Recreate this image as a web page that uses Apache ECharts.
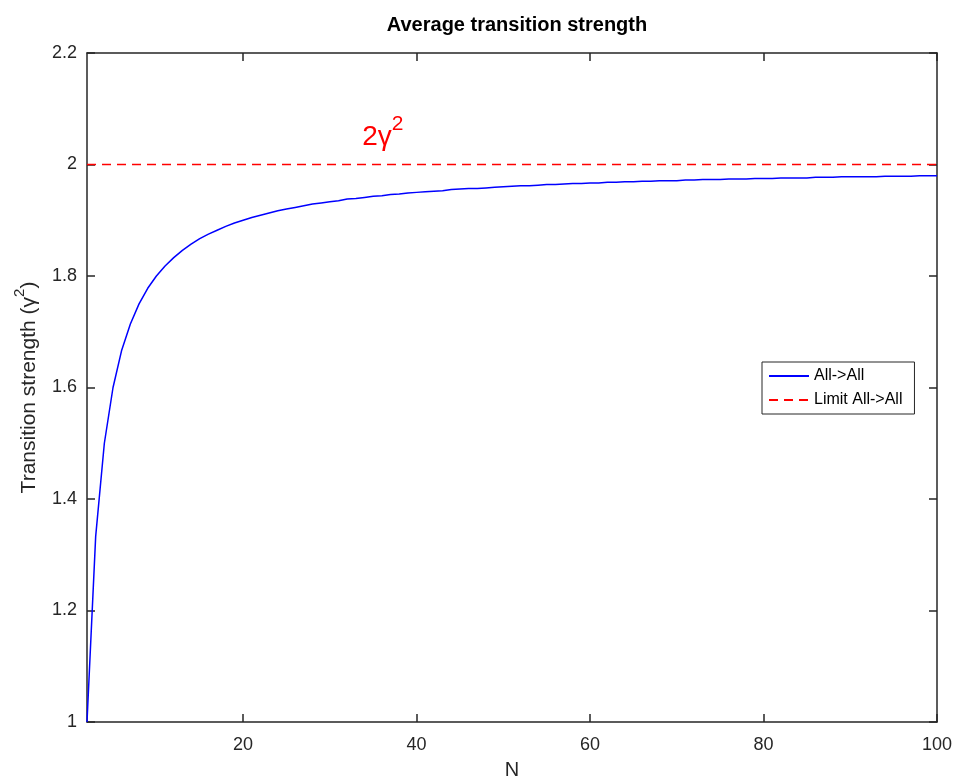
<!DOCTYPE html>
<html><head><meta charset="utf-8">
<script src="https://cdn.jsdelivr.net/npm/echarts@6/dist/echarts.min.js"></script>
<style>html,body{margin:0;padding:0;background:#fff}#c{width:956px;height:781px}</style>
</head><body><div id="c"></div>
<script>
const nValues = [2,3,4,5,6,7,8,9,10,11,12,13,14,15,16,17,18,19,20,21,22,23,24,25,26,27,28,29,30,31,32,33,34,35,36,37,38,39,40,41,42,43,44,45,46,47,48,49,50,51,52,53,54,55,56,57,58,59,60,61,62,63,64,65,66,67,68,69,70,71,72,73,74,75,76,77,78,79,80,81,82,83,84,85,86,87,88,89,90,91,92,93,94,95,96,97,98,99,100];
const allToAll = [1.000,1.333,1.500,1.600,1.667,1.714,1.750,1.778,1.800,1.818,1.833,1.846,1.857,1.867,1.875,1.882,1.889,1.895,1.900,1.905,1.909,1.913,1.917,1.920,1.923,1.926,1.929,1.931,1.933,1.935,1.938,1.939,1.941,1.943,1.944,1.946,1.947,1.949,1.950,1.951,1.952,1.953,1.955,1.956,1.957,1.957,1.958,1.959,1.960,1.961,1.962,1.962,1.963,1.964,1.964,1.965,1.966,1.966,1.967,1.967,1.968,1.968,1.969,1.969,1.970,1.970,1.971,1.971,1.971,1.972,1.972,1.973,1.973,1.973,1.974,1.974,1.974,1.975,1.975,1.975,1.976,1.976,1.976,1.976,1.977,1.977,1.977,1.978,1.978,1.978,1.978,1.978,1.979,1.979,1.979,1.979,1.980,1.980,1.980];
const limitX = [2, 100];
const limitY = [2, 2];
const xTicks = [20, 40, 60, 80, 100];
const annotation = {x: 36.1, y: 2.057};

const FONT = '"Liberation Sans", Arial, sans-serif';
const AX = '#262626';
const chart = echarts.init(document.getElementById('c'), null, {renderer: 'canvas'});
const xCommon = {
  type: 'value', min: 2, max: 100,
  axisLine: {show: true, onZero: false, lineStyle: {color: AX, width: 1.5}},
  axisTick: {show: true, inside: true, length: 8, customValues: xTicks, lineStyle: {color: AX, width: 1.5}},
  splitLine: {show: false}
};
const yCommon = {
  type: 'value', min: 1, max: 2.2, interval: 0.2,
  axisLine: {show: true, onZero: false, lineStyle: {color: AX, width: 1.5}},
  axisTick: {show: true, inside: true, length: 8, lineStyle: {color: AX, width: 1.5}},
  splitLine: {show: false}
};
chart.setOption({
  animation: false,
  backgroundColor: '#fff',
  title: {
    text: 'Average transition strength', left: 512, top: 10, textAlign: 'center',
    textStyle: {fontFamily: FONT, fontSize: 20, fontWeight: 'bold', color: '#000'}
  },
  grid: {left: 87, right: 19, top: 53, bottom: 59, containLabel: false, outerBoundsMode: 'none'},
  legend: {
    orient: 'vertical', left: 762, top: 362, itemGap: 8,
    padding: [6, 12, 6, 6], borderColor: AX, borderWidth: 1, backgroundColor: '#fff',
    itemWidth: 40, itemHeight: 12,
    itemStyle: {opacity: 0},
    textStyle: {fontFamily: FONT, fontSize: 16, color: '#000'},
    data: ['All->All', 'Limit All->All']
  },
  xAxis: [
    Object.assign({}, xCommon, {
      position: 'bottom', name: 'N', nameLocation: 'middle', nameGap: 38,
      nameTextStyle: {fontFamily: FONT, fontSize: 20, color: AX},
      axisLabel: {show: true, customValues: xTicks, margin: 14, fontFamily: FONT, fontSize: 18, color: AX}
    }),
    Object.assign({}, xCommon, {position: 'top', axisLabel: {show: false}})
  ],
  yAxis: [
    Object.assign({}, yCommon, {
      position: 'left', name: '{a|Transition strength (γ}{s|2}{a|)}', nameLocation: 'middle', nameGap: 47,
      nameTextStyle: {fontFamily: FONT, color: AX,
        rich: {a: {fontFamily: FONT, fontSize: 21, color: AX, lineHeight: 28, verticalAlign: 'bottom'},
               s: {fontFamily: FONT, fontSize: 15, color: AX, lineHeight: 28, verticalAlign: 'top'}}},
      axisLabel: {show: true, margin: 10, fontFamily: FONT, fontSize: 18, color: AX}
    }),
    Object.assign({}, yCommon, {position: 'right', axisLabel: {show: false}})
  ],
  series: [
    {
      name: 'All->All', type: 'line', symbol: 'none', xAxisIndex: 0, yAxisIndex: 0,
      data: nValues.map((n, i) => [n, allToAll[i]]),
      lineStyle: {color: '#0000ff', width: 1.5}, itemStyle: {color: '#0000ff'}
    },
    {
      name: 'Limit All->All', type: 'line', symbol: 'none', xAxisIndex: 0, yAxisIndex: 0,
      data: limitX.map((x, i) => [x, limitY[i]]),
      lineStyle: {color: '#ff0000', width: 1.5, type: [9, 6]}, itemStyle: {color: '#ff0000'},
      markPoint: {
        symbol: 'circle', symbolSize: 0, silent: true,
        data: [{coord: [annotation.x, annotation.y]}],
        label: {
          show: true, position: 'inside', formatter: '{a|2γ}{s|2}',
          rich: {a: {fontFamily: FONT, fontSize: 28, color: '#ff0000', lineHeight: 38, verticalAlign: 'bottom'},
                 s: {fontFamily: FONT, fontSize: 21, color: '#ff0000', lineHeight: 38, verticalAlign: 'top'}}
        }
      }
    }
  ]
});
</script>
</body></html>
